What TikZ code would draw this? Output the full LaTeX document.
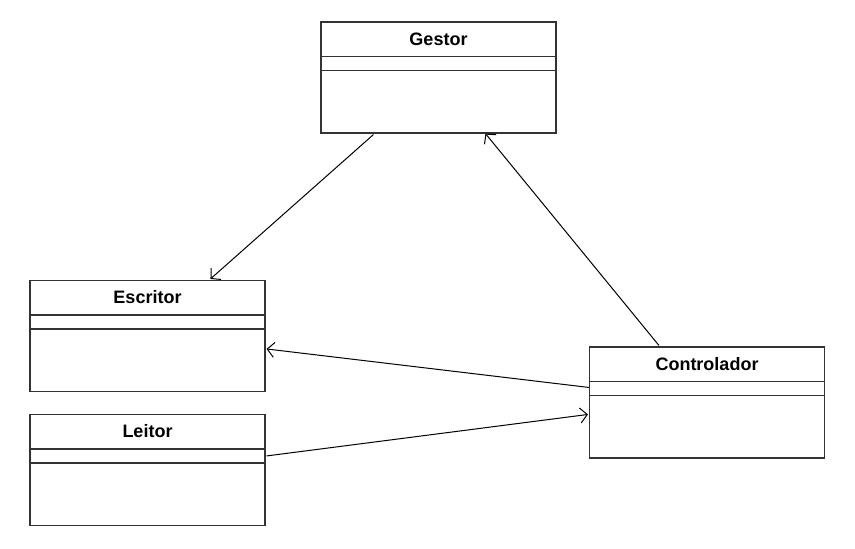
\documentclass[tikz,border=0pt]{standalone}
\usepackage{fontspec}
\setmainfont{Liberation Sans}
\usetikzlibrary{arrows.meta,calc}
\begin{document}
\begin{tikzpicture}[x=1pt,y=-1pt,
  umlbox/.style={draw=black!80,line width=1.1pt,minimum width=235pt,minimum height=111pt,inner sep=0pt},
  sep/.style={draw=black!80,line width=1.1pt},
  title/.style={font=\fontsize{18}{21}\selectfont\bfseries,inner sep=0pt},
  conn/.style={line width=1pt,-{Straight Barb[length=7pt,width=15pt,line width=1pt]}}]
\useasboundingbox (0,0) rectangle (855,549);
\node[umlbox] (gestor) at (438.5,77.5) {};
\node[umlbox] (escritor) at (147.5,336) {};
\node[umlbox] (leitor) at (147.5,470) {};
\node[umlbox] (control) at (707,402.5) {};
\foreach \n/\t in {gestor/Gestor,escritor/Escritor,leitor/Leitor,control/Controlador}{
  \node[title] (\n-t) at ($(\n.north)+(0,17.5)$) {\t};
  \draw[sep] ($(\n.north west)+(0,35)$) -- ($(\n.north east)+(0,35)$);
  \draw[sep] ($(\n.north west)+(0,49)$) -- ($(\n.north east)+(0,49)$);
}
\draw[conn] ($(gestor.south west)+(53,1)$) -- ($(escritor.north west)+(181,-1)$);
\draw[conn] ($(control.north west)+(70,-1)$) -- ($(gestor.south west)+(165,0)$);
\draw[conn] ($(control.north west)+(0,41)$) -- ($(escritor.north east)+(1,69)$);
\draw[conn] ($(leitor.north east)+(1,42)$) -- ($(control.north west)+(-1,68)$);
\end{tikzpicture}
\end{document}
